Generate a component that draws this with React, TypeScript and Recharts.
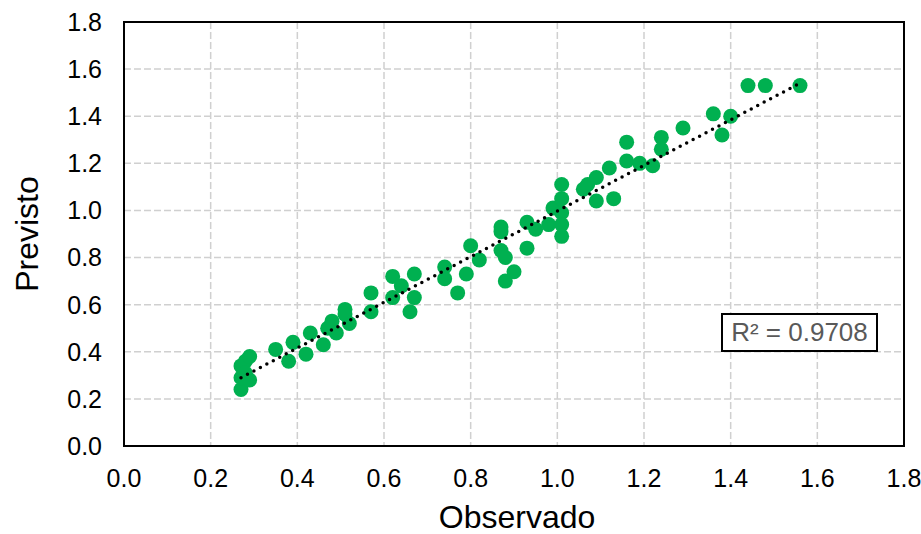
import React from 'react'
import {
  ScatterChart,
  Scatter,
  XAxis,
  YAxis,
  CartesianGrid,
  ReferenceArea,
} from 'recharts'

const observado = [
  0.27, 0.27, 0.27, 0.28, 0.29, 0.28, 0.29, 0.35, 0.38, 0.39,
  0.42, 0.43, 0.46, 0.47, 0.48, 0.49, 0.51, 0.52, 0.51, 0.57,
  0.57, 0.62, 0.62, 0.64, 0.67, 0.67, 0.66, 0.74, 0.74, 0.77,
  0.79, 0.8, 0.82, 0.87, 0.87, 0.87, 0.88, 0.9, 0.88, 0.93,
  0.93, 0.95, 0.98, 0.99, 1.01, 1.01, 1.01, 1.01, 1.01, 1.06,
  1.07, 1.09, 1.09, 1.13, 1.12, 1.16, 1.16, 1.19, 1.22, 1.24,
  1.24, 1.29, 1.36, 1.4, 1.38, 1.44, 1.48, 1.56,
]
const previsto = [
  0.24, 0.29, 0.34, 0.36, 0.38, 0.31, 0.28, 0.41, 0.36, 0.44,
  0.39, 0.48, 0.43, 0.5, 0.53, 0.48, 0.58, 0.52, 0.56, 0.65,
  0.57, 0.72, 0.63, 0.68, 0.73, 0.63, 0.57, 0.76, 0.71, 0.65,
  0.73, 0.85, 0.79, 0.93, 0.91, 0.83, 0.8, 0.74, 0.7, 0.84,
  0.95, 0.92, 0.94, 1.01, 1.11, 1.05, 0.99, 0.94, 0.89, 1.09,
  1.11, 1.04, 1.14, 1.05, 1.18, 1.29, 1.21, 1.2, 1.19, 1.31,
  1.26, 1.35, 1.41, 1.4, 1.32, 1.53, 1.53, 1.53,
]

// linear trend line ends
const trendX = [0.27, 1.56]
const trendY = [0.29, 1.54]

const axisTicks = [0, 0.2, 0.4, 0.6, 0.8, 1.0, 1.2, 1.4, 1.6, 1.8]
const r2Label = 'R² = 0.9708'

const FONT = '"Liberation Sans", Arial, sans-serif'
const GREEN = '#00B050'

const points = observado.map((x, i) => ({ x, y: previsto[i] }))
const trend = trendX.map((x, i) => ({ x, y: trendY[i] }))

function XTitle({ viewBox }: any) {
  if (!viewBox) return null
  return (
    <text
      x={viewBox.x + viewBox.width / 2 + 3}
      y={viewBox.y + 71}
      textAnchor="middle"
      dominantBaseline="central"
      fontSize={32}
      fontFamily={FONT}
      fill="#000"
    >
      Observado
    </text>
  )
}

function YTitle({ viewBox }: any) {
  if (!viewBox) return null
  const cx = 27
  const cy = viewBox.y + viewBox.height / 2
  return (
    <text
      x={cx}
      y={cy}
      transform={`rotate(-90, ${cx}, ${cy})`}
      textAnchor="middle"
      dominantBaseline="central"
      fontSize={32}
      fontFamily={FONT}
      fill="#000"
    >
      Previsto
    </text>
  )
}

const Dot = (p: any) => <circle cx={p.cx} cy={p.cy} r={7.5} fill={GREEN} />
const NoDot = () => <g />

export default function App() {
  const tick = { fontSize: 25, fill: '#000', fontFamily: FONT }
  return (
    <div style={{ position: 'relative', width: 921, height: 534, fontFamily: FONT }}>
      {/* drop the default body margin so the chart fills the window */}
      <style>{'body { margin: 0; }'}</style>
      <ScatterChart width={921} height={534} margin={{ top: 22, right: 17, left: 0, bottom: 0 }}>
        <CartesianGrid stroke="#D0D0D0" strokeDasharray="7 3" strokeWidth={1.5} />
        <XAxis
          type="number"
          dataKey="x"
          domain={[0, 1.8]}
          ticks={axisTicks}
          tickFormatter={(v: number) => v.toFixed(1)}
          tick={tick}
          tickLine={false}
          axisLine={false}
          tickSize={0}
          tickMargin={23}
          height={88}
          interval={0}
          label={<XTitle />}
        />
        <YAxis
          type="number"
          dataKey="y"
          domain={[0, 1.8]}
          ticks={axisTicks}
          tickFormatter={(v: number) => v.toFixed(1)}
          tick={tick}
          tickLine={false}
          axisLine={false}
          tickSize={0}
          tickMargin={22}
          width={124}
          interval={0}
          label={<YTitle />}
        />
        <ReferenceArea x1={0} x2={1.8} y1={0} y2={1.8} fill="none" stroke="#000" strokeWidth={2} fillOpacity={0} />
        <Scatter data={points} fill={GREEN} shape={Dot} isAnimationActive={false} />
        <Scatter
          data={trend}
          shape={NoDot}
          line={{ stroke: '#000', strokeWidth: 3.5, strokeDasharray: '0 7.3', strokeLinecap: 'round' }}
          isAnimationActive={false}
        />
      </ScatterChart>
      <div
        style={{
          position: 'absolute',
          left: 721,
          top: 313,
          width: 157,
          height: 39,
          boxSizing: 'border-box',
          border: '2px solid #000',
          background: '#fff',
          color: '#595959',
          fontSize: 26,
          lineHeight: '35px',
          textAlign: 'center',
          whiteSpace: 'nowrap',
        }}
      >
        {r2Label}
      </div>
    </div>
  )
}
